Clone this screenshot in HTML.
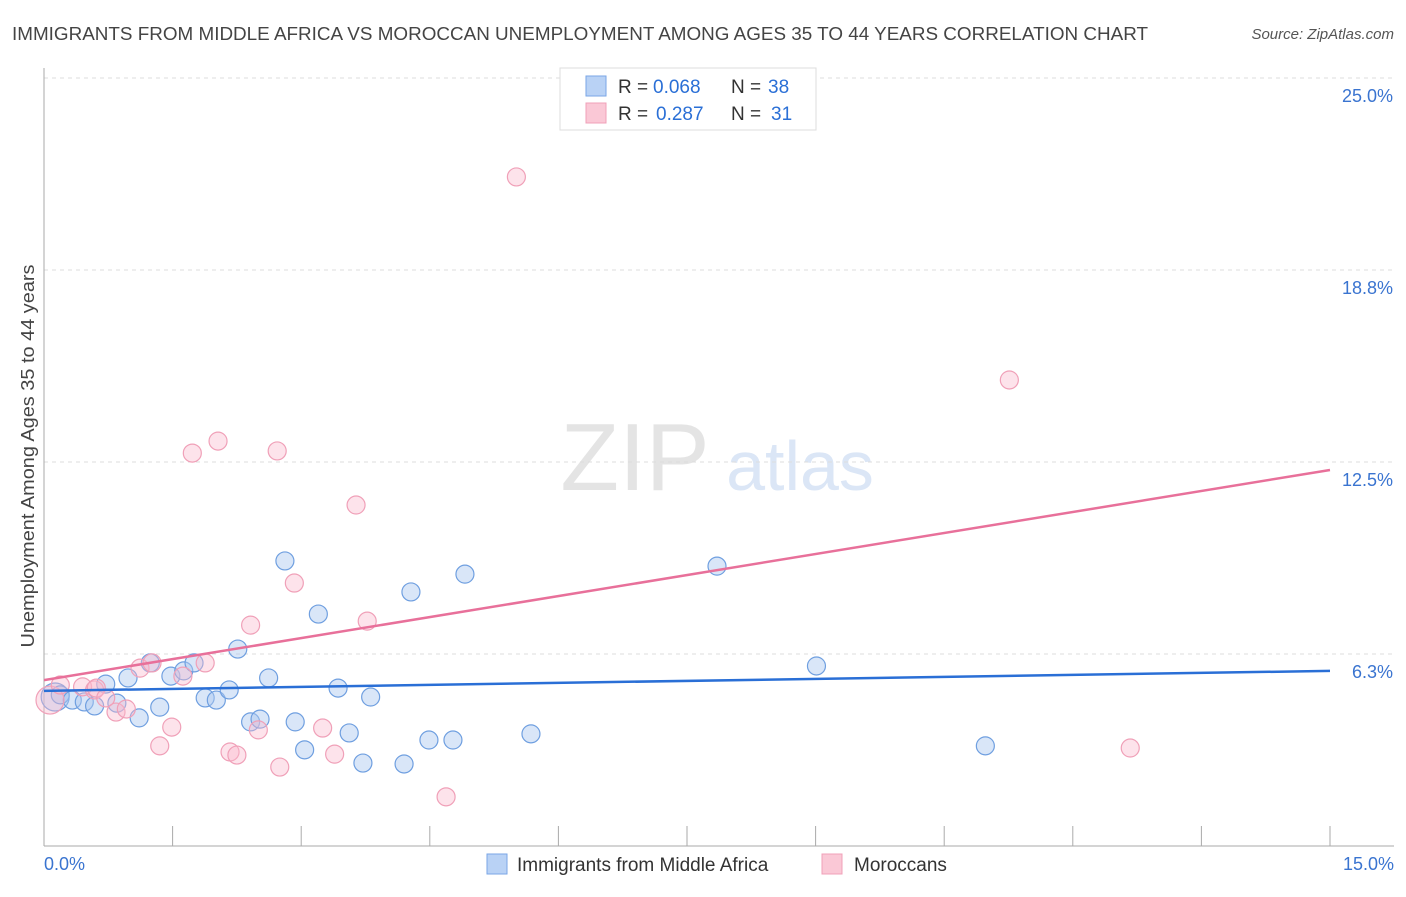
<!DOCTYPE html>
<html><head><meta charset="utf-8">
<style>
body{margin:0;background:#fff;font-family:"Liberation Sans",sans-serif;}
svg text{font-family:"Liberation Sans",sans-serif;}
</style></head>
<body>
<svg id="chart" width="1406" height="892" viewBox="0 0 1406 892" xmlns="http://www.w3.org/2000/svg">
<text x="12" y="40" font-size="18" fill="#444" textLength="1136" lengthAdjust="spacingAndGlyphs">IMMIGRANTS FROM MIDDLE AFRICA VS MOROCCAN UNEMPLOYMENT AMONG AGES 35 TO 44 YEARS CORRELATION CHART</text>
<text x="1394" y="39" font-size="15" fill="#555" text-anchor="end" font-style="italic">Source: ZipAtlas.com</text>
<text transform="translate(34,456) rotate(-90)" font-size="18" fill="#444" text-anchor="middle" textLength="383" lengthAdjust="spacingAndGlyphs">Unemployment Among Ages 35 to 44 years</text>
<g>
<text x="635" y="490" font-size="96" fill="#e4e4e4" text-anchor="middle" font-family="Liberation Serif">ZIP</text>
<text x="800" y="490" font-size="70" fill="#dbe6f6" text-anchor="middle">atlas</text>
</g>
<g id="grid"></g>
<g id="axes"></g>
<g id="points"></g>
<g id="lines"></g>
<g>
<rect x="560" y="68" width="256" height="62" fill="#fff" stroke="#ddd"/>
<rect x="586" y="76" width="20" height="20" fill="#b9d2f5" stroke="#7aa6e6"/>
<text x="618" y="93" font-size="19" fill="#333">R =</text>
<text x="653" y="93" font-size="19" fill="#2a6fd6">0.068</text>
<text x="731" y="93" font-size="19" fill="#333">N =</text>
<text x="768" y="93" font-size="19" fill="#2a6fd6">38</text>
<rect x="586" y="103" width="20" height="20" fill="#fac8d6" stroke="#f0a0b8"/>
<text x="618" y="120" font-size="19" fill="#333">R =</text>
<text x="656" y="120" font-size="19" fill="#2a6fd6">0.287</text>
<text x="731" y="120" font-size="19" fill="#333">N =</text>
<text x="771" y="120" font-size="19" fill="#2a6fd6">31</text>
</g>
<g>
<rect x="487" y="854" width="20" height="20" fill="#b9d2f5" stroke="#7aa6e6"/>
<text x="517" y="871" font-size="19" fill="#333">Immigrants from Middle Africa</text>
<rect x="822" y="854" width="20" height="20" fill="#fac8d6" stroke="#f0a0b8"/>
<text x="854" y="871" font-size="19" fill="#333">Moroccans</text>
</g>
</svg>
<script>
const blueX=[0.13,0.19,0.33,0.47,0.59,0.72,0.85,0.98,1.11,1.24,1.35,1.48,1.63,1.75,1.88,2.01,2.16,2.26,2.41,2.52,2.62,2.81,2.93,3.04,3.20,3.43,3.56,3.72,3.81,4.20,4.28,4.49,4.77,4.91,5.68,7.85,9.01,10.98];
const blueY=[4.85,4.92,4.75,4.69,4.56,5.27,4.65,5.47,4.17,5.96,4.52,5.53,5.70,5.96,4.82,4.75,5.08,6.41,4.04,4.13,5.47,9.28,4.04,3.13,7.55,5.14,3.68,2.70,4.85,2.67,8.27,3.45,3.45,8.85,3.65,9.11,5.86,3.26];
const pinkX=[0.07,0.19,0.45,0.59,0.61,0.72,0.84,0.96,1.12,1.26,1.35,1.49,1.62,1.73,1.88,2.03,2.17,2.25,2.41,2.50,2.72,2.75,2.92,3.25,3.39,3.64,3.77,4.69,5.51,11.26,12.67];
const pinkY=[4.75,5.24,5.18,5.08,5.14,4.82,4.36,4.46,5.79,5.96,3.26,3.87,5.53,12.79,5.96,13.18,3.06,2.96,7.19,3.78,12.86,2.57,8.56,3.84,2.99,11.10,7.32,1.60,21.78,15.17,3.19];
const blueTrend=[5.05,5.70];
const pinkTrend=[5.40,12.24];
const yTicks=[6.25,12.5,18.75,25];
const yTickLabels=["6.3%","12.5%","18.8%","25.0%"];
const xTicks=[0,1.5,3,4.5,6,7.5,9,10.5,12,13.5,15];
const xLabels=["0.0%","15.0%"];
const NS="http://www.w3.org/2000/svg";
const X0=44,X1=1330,Y0=846,Y1=78;
function sx(v){return X0+(v-0)/15*(X1-X0);}
function sy(v){return Y0-(v-0)/25*(Y0-Y1);}
function mk(tag,attrs,parent){const e=document.createElementNS(NS,tag);for(const k in attrs)e.setAttribute(k,attrs[k]);parent.appendChild(e);return e;}
const grid=document.getElementById('grid'),axes=document.getElementById('axes'),pts=document.getElementById('points'),lines=document.getElementById('lines');
yTicks.forEach((t,i)=>{
 const l=mk('line',{x1:X0,x2:1394,y1:sy(t),y2:sy(t),stroke:'#ddd','stroke-dasharray':'4,4'},grid);
 
 
 const tx=mk('text',{x:1393,y:sy(t)+24,'font-size':18,fill:'#3a74d0','text-anchor':'end'},axes);
 tx.textContent=yTickLabels[i];
 
 
});
const ax=mk('line',{x1:X0,x2:X0,y1:68,y2:Y0,stroke:'#aaa'},axes);


const bx=mk('line',{x1:X0,x2:1394,y1:Y0,y2:Y0,stroke:'#aaa'},axes);


xTicks.forEach(t=>{
 const l=mk('line',{x1:sx(t),x2:sx(t),y1:826,y2:Y0,stroke:'#aaa'},axes);
 
 
});
const xl0=mk('text',{x:44,y:870,'font-size':18,fill:'#3a74d0'},axes);xl0.textContent=xLabels[0];


const xl1=mk('text',{x:1394,y:870,'font-size':18,fill:'#3a74d0','text-anchor':'end'},axes);xl1.textContent=xLabels[1];


blueX.forEach((x,i)=>{
 const c=mk('circle',{cx:sx(x),cy:sy(blueY[i]),r:i===0?14:9,fill:'rgba(170,200,240,0.45)',stroke:'#6f9fe0','stroke-width':1.2},pts);
 
 
});
pinkX.forEach((x,i)=>{
 const c=mk('circle',{cx:sx(x),cy:sy(pinkY[i]),r:i===0?14:9,fill:'rgba(250,185,205,0.4)',stroke:'#f0a0b8','stroke-width':1.2},pts);
 
 
});
const bl=mk('line',{x1:sx(0),x2:sx(15),y1:sy(blueTrend[0]),y2:sy(blueTrend[1]),stroke:'#2a6fd6','stroke-width':2.5},lines);


const pl=mk('line',{x1:sx(0),x2:sx(15),y1:sy(pinkTrend[0]),y2:sy(pinkTrend[1]),stroke:'#e8709a','stroke-width':2.5},lines);


</script>
</body></html>
